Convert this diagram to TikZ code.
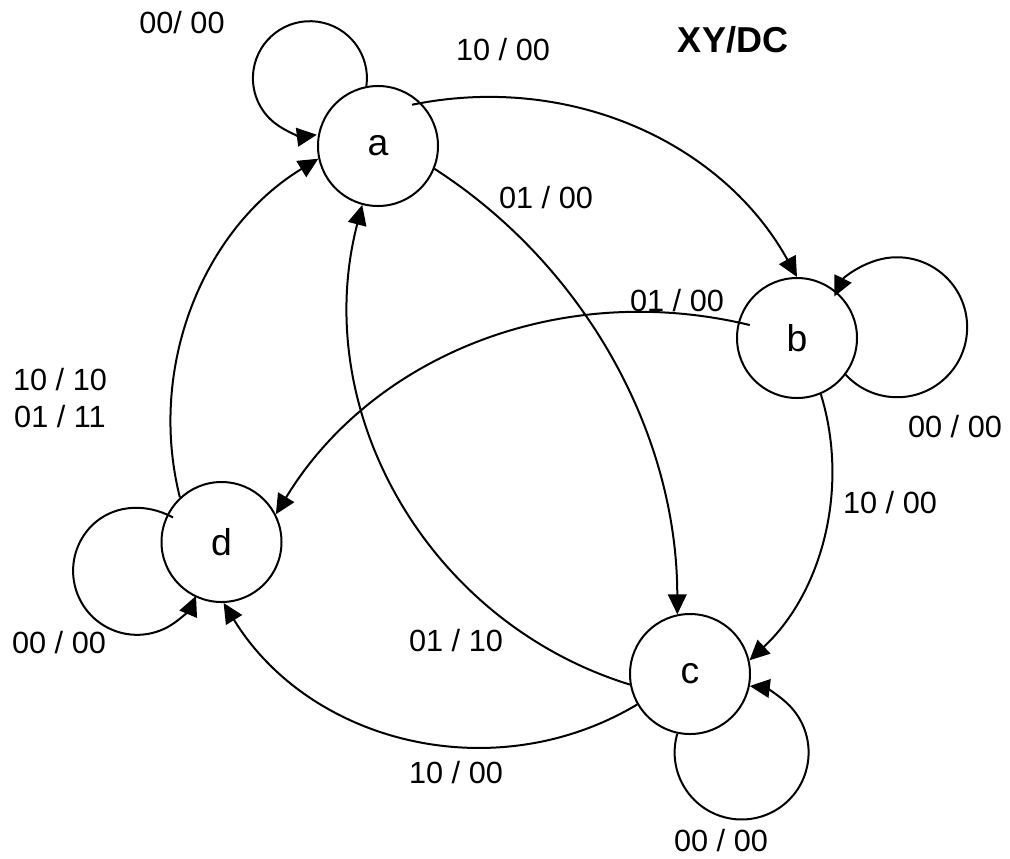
\documentclass[tikz,border=0pt]{standalone}
\usepackage{fontspec}
\setmainfont{Liberation Sans}
\usetikzlibrary{arrows.meta}
\begin{document}
\begin{tikzpicture}[x=0.75pt,y=-0.75pt,
  state/.style={draw,circle,line width=1.5pt,minimum size=90pt,inner sep=0pt,font=\fontsize{28}{32}\selectfont},
  lbl/.style={font=\fontsize{23}{27.75}\selectfont,inner sep=0pt,align=center},
  title/.style={font=\bfseries\fontsize{27}{30}\selectfont,inner sep=0pt},
  edge/.style={line width=1.5pt,-{Triangle[length=15pt,width=14pt]}},
]
\useasboundingbox (0,0) rectangle (1010,858);
% states
\node[state] (a) at (378,146) {a};
\node[state] (b) at (797,338) {b};
\node[state] (c) at (690,674) {c};
\node[state] (d) at (221.5,542) {d};
% self loops
\draw[edge] (a.101) arc[start angle=-8, end angle=277, radius=42.75pt];
\draw[edge] (b.-37) arc[start angle=222.7, end angle=513.9, radius=52.5pt];
\draw[edge] (c.-102) arc[start angle=163.7, end angle=443, radius=50.25pt];
\draw[edge,shorten <=-5pt] (d.153) arc[start angle=62, end angle=337, radius=48pt];
% transitions
\draw[edge,shorten <=-7pt] (a.45) .. controls (569.8,72.5) and (722.5,142.4) .. (b.north);
\draw[edge] (a.-22) .. controls (585.9,266.5) and (677,434.5) .. (c.102);
\draw[edge,shorten <=-9pt] (b.165) .. controls (559.0,279.0) and (371.5,356.8) .. (d.27);
\draw[edge] (b.-67) .. controls (849.9,488.6) and (821.9,592.7) .. (c.13);
\draw[edge] (c.190) .. controls (427.0,621.9) and (308.7,410.4) .. (a.-105);
\draw[edge] (c.210) .. controls (495.2,789.4) and (310.3,744.0) .. (d.-88);
\draw[edge] (d.133) .. controls (146.9,366.8) and (203.3,228.7) .. (a.192);
% labels
\node[lbl] (la) at (182,23) {00/ 00};
\node[lbl] (lab) at (503,50) {10 / 00};
\node[title] (tt) at (733,40) {XY/DC};
\node[lbl] (lac) at (546,198) {01 / 00};
\node[lbl] (lbd) at (677,301) {01 / 00};
\node[lbl] (lb) at (955,427) {00 / 00};
\node[lbl] (lbc) at (890,503) {10 / 00};
\node[lbl] (lda) at (60,398.5) {10 / 10\\01 / 11};
\node[lbl] (ld) at (59,643) {00 / 00};
\node[lbl] (lca) at (456,641) {01 / 10};
\node[lbl] (lcd) at (456,773) {10 / 00};
\node[lbl] (lc) at (721,841) {00 / 00};
\end{tikzpicture}
\end{document}
